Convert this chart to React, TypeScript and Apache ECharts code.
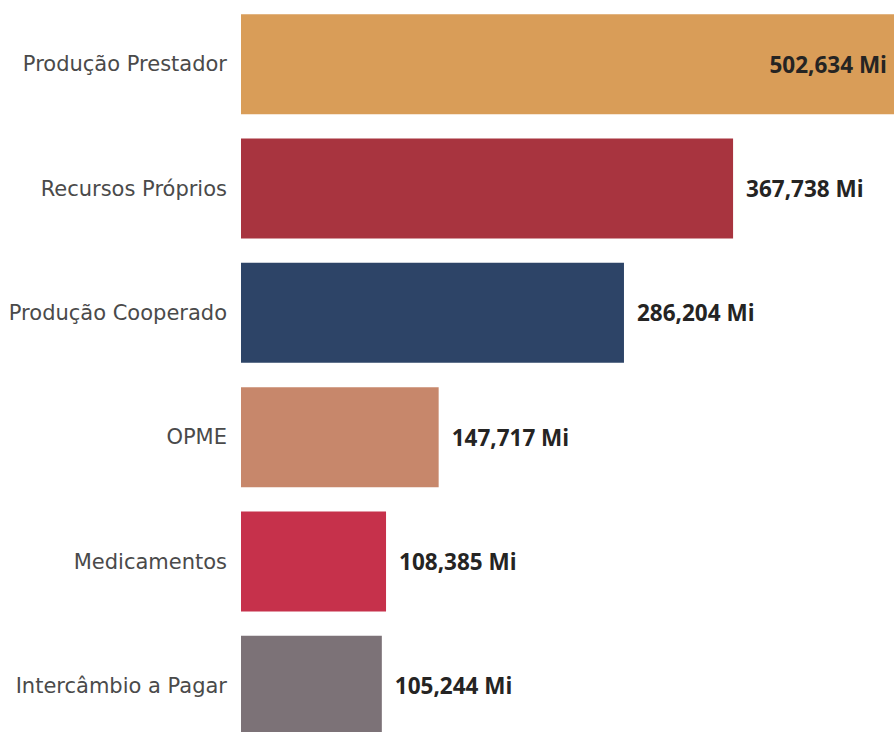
import React, { useEffect, useRef } from "react";
import * as echarts from "echarts";

const categories = [
  "Produção Prestador",
  "Recursos Próprios",
  "Produção Cooperado",
  "OPME",
  "Medicamentos",
  "Intercâmbio a Pagar",
];
const values = [502.634, 367.738, 286.204, 147.717, 108.385, 105.244];
const colors = ["#D99D58", "#A8343F", "#2D4467", "#C7876B", "#C6314B", "#7C7277"];

const fmt = (v: number) => v.toFixed(3).replace(".", ",") + " Mi";

export default function App() {
  const ref = useRef<HTMLDivElement>(null);
  useEffect(() => {
    document.body.style.margin = "0";
    const chart = echarts.init(ref.current!, null, { renderer: "svg" });
    chart.setOption({
      animation: false,
      backgroundColor: "#ffffff",
      grid: { left: 241, right: 0, top: 2, height: 746, containLabel: false },
      xAxis: {
        type: "value",
        min: 0,
        max: 488,
        show: false,
      },
      yAxis: {
        type: "category",
        data: categories,
        inverse: true,
        axisLine: { show: false },
        axisTick: { show: false },
        axisLabel: {
          margin: 14,
          fontFamily: "DejaVu Sans",
          fontSize: 21,
          color: "#4a4a4a",
        },
      },
      series: [
        {
          type: "bar",
          barWidth: 100,
          clip: true,
          data: values.map((v, i) => ({
            value: v,
            itemStyle: { color: colors[i] },
            label:
              i === 0
                ? { position: "insideRight", distance: 7 }
                : { position: "right", distance: 13 },
          })),
          label: {
            show: true,
            fontFamily: "Open Sans",
            fontWeight: "bold",
            fontSize: 22.5,
            color: "#252423",
            formatter: (p: any) => fmt(p.value),
          },
        },
      ],
    });
    return () => chart.dispose();
  }, []);
  return (
    <div style={{ width: 894, height: 732, overflow: "hidden" }}>
      <div ref={ref} style={{ width: 894, height: 750 }} />
    </div>
  );
}
